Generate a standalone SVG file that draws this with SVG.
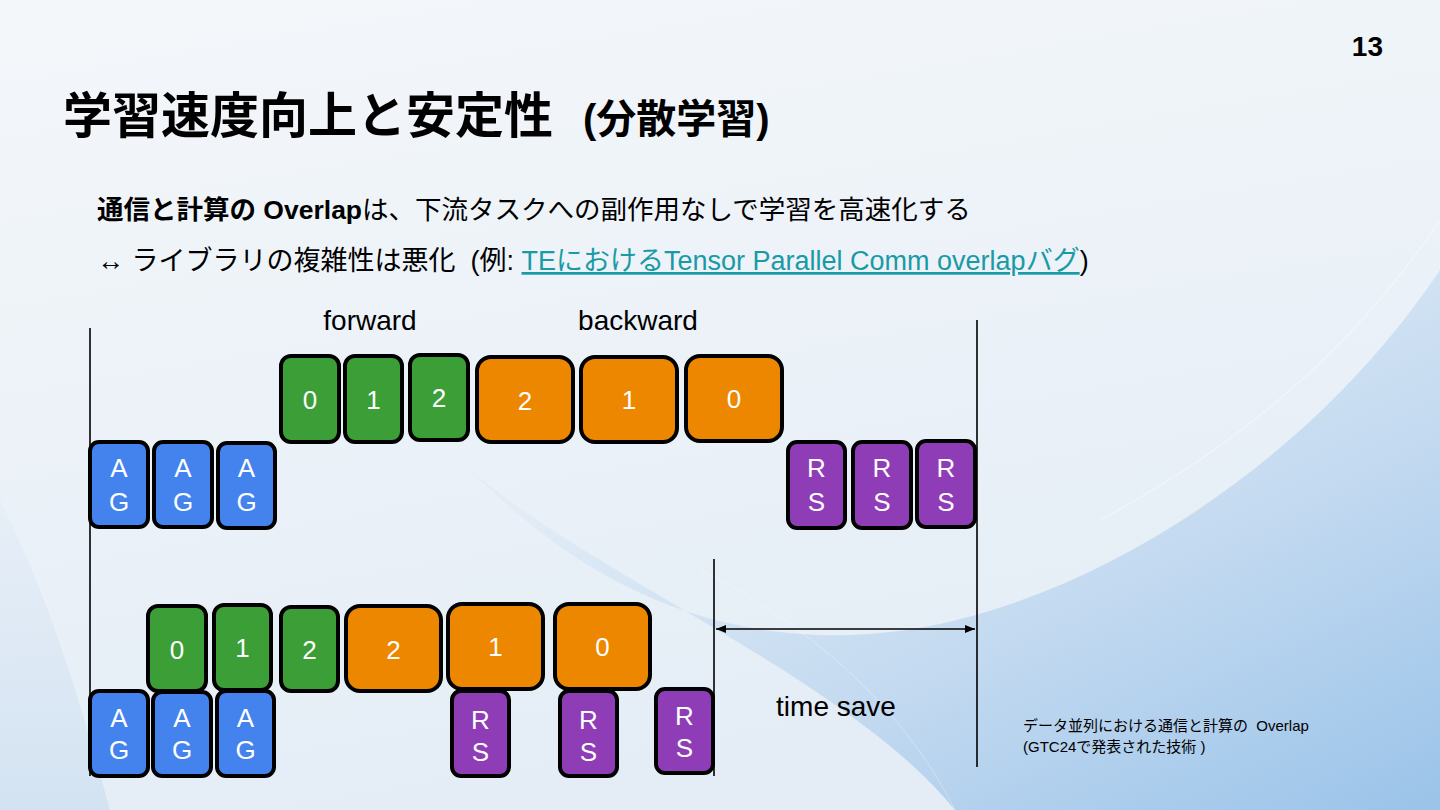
<svg xmlns="http://www.w3.org/2000/svg" width="1440" height="810" viewBox="0 0 1440 810">
<defs>
<linearGradient id="bg" x1="0" y1="0" x2="0.3" y2="1">
<stop offset="0" stop-color="#F4F7FA"/>
<stop offset="1" stop-color="#E4EDF6"/>
</linearGradient>
<linearGradient id="sw1" x1="0.3" y1="0.2" x2="1" y2="1">
<stop offset="0" stop-color="#E2ECF6"/>
<stop offset="0.5" stop-color="#BDD6EF"/>
<stop offset="1" stop-color="#8DBCE7"/>
</linearGradient>
<linearGradient id="sw2" x1="0" y1="0" x2="0" y2="1">
<stop offset="0" stop-color="#E6EEF7"/>
<stop offset="1" stop-color="#CFE0F1"/>
</linearGradient>
<marker id="ah" viewBox="0 0 10 8" refX="10" refY="4" markerWidth="10" markerHeight="8" markerUnits="userSpaceOnUse" orient="auto-start-reverse">
<path d="M0,0 L10,4 L0,8 Z" fill="#000"/>
</marker>
</defs>
<style>
.t{font-family:"Liberation Sans","Noto Sans CJK JP",sans-serif;}
.box rect{stroke:#000;stroke-width:4;}
.ag rect{fill:#4483EE;}
.fw rect{fill:#3C9E36;}
.bw rect{fill:#EE8700;}
.rs rect{fill:#8E3DB7;}
.box text{font-family:"Liberation Sans",sans-serif;font-size:26px;fill:#fff;text-anchor:middle;}
.vl{stroke:#000;stroke-width:1.6;fill:none;}
.lbl{font-family:"Liberation Sans",sans-serif;font-size:28px;fill:#000;}
</style>
<rect width="1440" height="810" fill="url(#bg)"/>
<path d="M0,500 C50,600 80,700 110,810 L0,810 Z" fill="url(#sw2)" opacity="0.8"/>
<path d="M470,470 C600,580 850,680 955,810 L1440,810 L1440,270 C1300,480 1050,630 850,635 C680,640 560,560 470,470 Z" fill="url(#sw1)" opacity="0.85"/>
<path d="M955,810 C900,700 800,620 700,570" fill="none" stroke="#FFFFFF" stroke-width="1" opacity="0.3"/>
<path d="M1100,520 C1250,440 1360,340 1440,220" stroke="#FFFFFF" stroke-width="1.2" fill="none" opacity="0.45"/>

<text class="t" x="1383" y="56" font-size="28" font-weight="bold" text-anchor="end">13</text>
<text class="t" x="63" y="133" font-size="49" font-weight="bold">学習速度向上と安定性</text>
<text class="t" x="583" y="133" font-size="40" font-weight="bold">(分散学習)</text>
<text class="t" x="97" y="219" font-size="26.5"><tspan font-weight="bold">通信と計算の Overlap</tspan>は、下流タスクへの副作用なしで学習を高速化する</text>
<text class="t" x="97" y="270" font-size="27">↔ ライブラリの複雑性は悪化&#160; (例: <tspan fill="#1A9AA6" text-decoration="underline">TEにおけるTensor Parallel Comm overlapバグ</tspan>)</text>

<text class="lbl" x="370" y="330" text-anchor="middle">forward</text>
<text class="lbl" x="638" y="330" text-anchor="middle">backward</text>

<g id="connectors">
<line class="vl" x1="90" y1="328" x2="90" y2="776"/>
<line class="vl" x1="977" y1="320" x2="977" y2="767"/>
<line class="vl" x1="714" y1="559" x2="714" y2="776"/>
<line class="vl" x1="716" y1="629" x2="975" y2="629" marker-start="url(#ah)" marker-end="url(#ah)"/>
</g>

<!-- top row -->
<g id="t-ag1" class="box ag"><rect x="90" y="442" width="58" height="85" rx="9"/><text x="119" y="477">A</text><text x="119" y="511">G</text></g>
<g id="t-ag2" class="box ag"><rect x="154" y="442" width="58" height="85" rx="9"/><text x="183" y="477">A</text><text x="183" y="511">G</text></g>
<g id="t-ag3" class="box ag"><rect x="218" y="443" width="57" height="85" rx="9"/><text x="246.5" y="477">A</text><text x="246.5" y="511">G</text></g>
<g id="t-f0" class="box fw"><rect x="281" y="356" width="58" height="86" rx="10"/><text x="310" y="409">0</text></g>
<g id="t-f1" class="box fw"><rect x="345" y="356" width="57" height="86" rx="10"/><text x="373.5" y="409">1</text></g>
<g id="t-f2" class="box fw"><rect x="410" y="355" width="58" height="85" rx="10"/><text x="439" y="407">2</text></g>
<g id="t-b2" class="box bw"><rect x="477" y="357" width="96" height="85" rx="14"/><text x="525" y="410">2</text></g>
<g id="t-b1" class="box bw"><rect x="581" y="357" width="96" height="85" rx="14"/><text x="629" y="409">1</text></g>
<g id="t-b0" class="box bw"><rect x="686" y="356" width="96" height="85" rx="14"/><text x="734" y="408">0</text></g>
<g id="t-rs1" class="box rs"><rect x="788" y="442" width="57" height="86" rx="9"/><text x="816.5" y="477">R</text><text x="816.5" y="511">S</text></g>
<g id="t-rs2" class="box rs"><rect x="853" y="442" width="58" height="86" rx="9"/><text x="882" y="477">R</text><text x="882" y="511">S</text></g>
<g id="t-rs3" class="box rs"><rect x="917" y="441" width="58" height="86" rx="9"/><text x="946" y="477">R</text><text x="946" y="511">S</text></g>

<!-- bottom row -->
<g id="b-f0" class="box fw"><rect x="148" y="606" width="58" height="85" rx="10"/><text x="177" y="659">0</text></g>
<g id="b-f1" class="box fw"><rect x="214" y="605" width="57" height="85" rx="10"/><text x="242.5" y="657">1</text></g>
<g id="b-f2" class="box fw"><rect x="281" y="607" width="57" height="84" rx="10"/><text x="309.5" y="659">2</text></g>
<g id="b-b2" class="box bw"><rect x="346" y="606" width="95" height="85" rx="14"/><text x="393.5" y="659">2</text></g>
<g id="b-b1" class="box bw"><rect x="448" y="604" width="95" height="85" rx="14"/><text x="495.5" y="656">1</text></g>
<g id="b-b0" class="box bw"><rect x="555" y="604" width="95" height="85" rx="14"/><text x="602.5" y="656">0</text></g>
<g id="b-ag1" class="box ag"><rect x="90" y="691" width="58" height="85" rx="9"/><text x="119" y="727">A</text><text x="119" y="759">G</text></g>
<g id="b-ag2" class="box ag"><rect x="153" y="692" width="58" height="84" rx="9"/><text x="182" y="727">A</text><text x="182" y="759">G</text></g>
<g id="b-ag3" class="box ag"><rect x="217" y="691" width="57" height="85" rx="9"/><text x="245.5" y="727">A</text><text x="245.5" y="759">G</text></g>
<g id="b-rs1" class="box rs"><rect x="452" y="691" width="57" height="85" rx="9"/><text x="480.5" y="729">R</text><text x="480.5" y="761">S</text></g>
<g id="b-rs2" class="box rs"><rect x="560" y="691" width="57" height="85" rx="9"/><text x="588.5" y="729">R</text><text x="588.5" y="761">S</text></g>
<g id="b-rs3" class="box rs"><rect x="656" y="689" width="57" height="84" rx="9"/><text x="684.5" y="725">R</text><text x="684.5" y="757">S</text></g>

<text class="lbl" x="836" y="716" text-anchor="middle">time save</text>
<text class="t" x="1023" y="731" font-size="15">データ並列における通信と計算の&#160; Overlap</text>
<text class="t" x="1023" y="752" font-size="15">(GTC24で発表された技術 )</text>
</svg>
